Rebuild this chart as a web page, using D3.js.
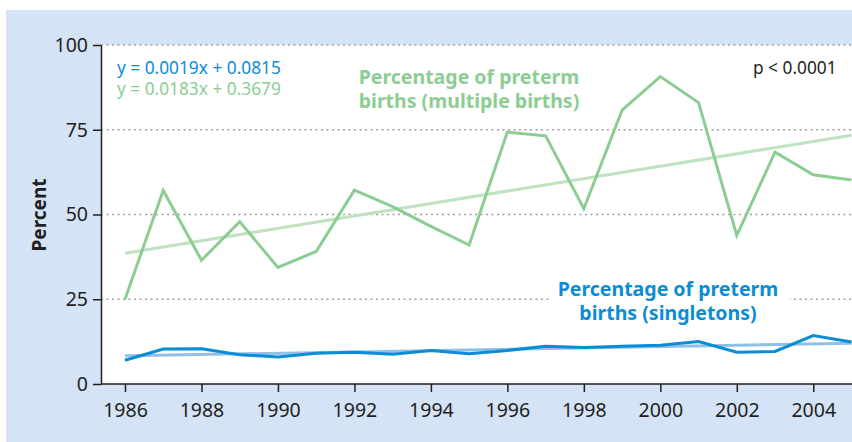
<!DOCTYPE html>
<html>
<head>
<meta charset="utf-8">
<script src="https://cdn.jsdelivr.net/npm/d3@7"></script>
<style>
  html, body { margin: 0; padding: 0; background: #fff; }
  svg { display: block; font-family: "Noto Sans", "Open Sans", sans-serif; }
</style>
</head>
<body>
<div id="chart"></div>
<script>
// data
const years = [1986, 1987, 1988, 1989, 1990, 1991, 1992, 1993, 1994, 1995,
               1996, 1997, 1998, 1999, 2000, 2001, 2002, 2003, 2004, 2005];
const multiple = [25.0, 57.1, 36.5, 47.9, 34.4, 39.1, 57.2, 52.3, 46.5, 41.0,
                  74.3, 73.2, 51.7, 80.8, 90.7, 83.0, 43.8, 68.4, 61.7, 60.2];
const singletons = [7.0, 10.3, 10.4, 8.6, 8.0, 9.1, 9.4, 8.8, 9.9, 8.9,
                    9.9, 11.1, 10.8, 11.1, 11.4, 12.5, 9.4, 9.6, 14.3, 12.4];
const trendYears = [1986, 2005];
const trendMultiple = [38.6, 73.4];
const trendSingle = [8.3, 12.0];
const yTicks = [0, 25, 50, 75, 100];
const xTicks = [1986, 1988, 1990, 1992, 1994, 1996, 1998, 2000, 2002, 2004];

const width = 852, height = 442;
const green = "#8ccd93", greenLight = "#bfe2c0";
const blue = "#0b8dd5", blueLight = "#8fc1e8";
const ink = "#231f20";

const svg = d3.select("#chart").append("svg")
  .attr("width", width).attr("height", height);

// panel backgrounds
svg.append("rect").attr("x", 6).attr("y", 10).attr("width", width - 6).attr("height", height - 10)
  .attr("fill", "#d4e3f5");

const x = d3.scaleLinear().domain([1986, 2005]).range([125, 851.5]);
const y = d3.scaleLinear().domain([0, 100]).range([384, 45]);
const x0 = 101, x1 = width;

svg.append("rect").attr("x", x0).attr("y", y(100)).attr("width", x1 - x0).attr("height", y(0) - y(100))
  .attr("fill", "#fff");

// dotted grid
svg.append("g").selectAll("line")
  .data(yTicks.filter(d => d > 0))
  .join("line")
    .attr("x1", x0).attr("x2", x1)
    .attr("y1", d => y(d)).attr("y2", d => y(d))
    .attr("stroke", "#a0a0a0").attr("stroke-width", 1.3)
    .attr("stroke-dasharray", "2,3.5");

// white patch behind singletons label
svg.append("rect").attr("x", 550).attr("y", 276).attr("width", 240).attr("height", 50).attr("fill", "#fff");

const line = d3.line().x(d => x(d[0])).y(d => y(d[1]));

// trend lines
svg.append("path").datum(d3.zip(trendYears, trendMultiple))
  .attr("d", line).attr("fill", "none").attr("stroke", greenLight).attr("stroke-width", 3);
svg.append("path").datum(d3.zip(trendYears, trendSingle))
  .attr("d", line).attr("fill", "none").attr("stroke", blueLight).attr("stroke-width", 3);

// data lines
svg.append("path").datum(d3.zip(years, multiple))
  .attr("d", line).attr("fill", "none").attr("stroke", green).attr("stroke-width", 3)
  .attr("stroke-linejoin", "miter");
svg.append("path").datum(d3.zip(years, singletons))
  .attr("d", line).attr("fill", "none").attr("stroke", blue).attr("stroke-width", 3)
  .attr("stroke-linejoin", "miter");

// axes
const yAxis = svg.append("g").attr("transform", `translate(${x0},0)`)
  .call(d3.axisLeft(y).tickValues(yTicks).tickSize(8).tickSizeOuter(0).tickPadding(5));
yAxis.select(".domain").attr("stroke", ink).attr("stroke-width", 1.5);
yAxis.selectAll(".tick line").attr("stroke", ink).attr("stroke-width", 1.5);
yAxis.selectAll("text").attr("fill", ink).style("font-size", "19.5px").style("font-family", "Noto Sans");

const xAxis = svg.append("g").attr("transform", `translate(0,${y(0)})`)
  .call(d3.axisBottom(x).tickValues(xTicks).tickFormat(d3.format("d")).tickSize(8).tickSizeOuter(0).tickPadding(11));
xAxis.select(".domain").attr("d", `M${x0},0H${x1}`).attr("stroke", ink).attr("stroke-width", 1.5);
xAxis.selectAll(".tick line").attr("stroke", ink).attr("stroke-width", 1.5);
xAxis.selectAll("text").attr("fill", ink).style("font-size", "19.5px").style("font-family", "Noto Sans");

// y title
svg.append("text")
  .attr("transform", "translate(46,215) rotate(-90)")
  .attr("text-anchor", "middle")
  .style("font-size", "19px").style("font-weight", "bold")
  .attr("fill", ink)
  .text("Percent");

// equations and p value
svg.append("text").attr("x", 117).attr("y", 74).attr("fill", blue)
  .style("font-size", "17.3px").text("y = 0.0019x + 0.0815");
svg.append("text").attr("x", 117).attr("y", 95).attr("fill", green)
  .style("font-size", "17.3px").text("y = 0.0183x + 0.3679");
svg.append("text").attr("x", 753).attr("y", 74).attr("fill", ink)
  .style("font-size", "17.3px").text("p < 0.0001");

// series labels
function label(lines, cx, y0, color) {
  const t = svg.append("text").attr("text-anchor", "middle").attr("fill", color)
    .style("font-size", "19.5px").style("font-weight", "bold");
  lines.forEach((s, i) => {
    t.append("tspan").attr("x", cx).attr("y", y0 + i * 24).text(s);
  });
}
label(["Percentage of preterm", "births (multiple births)"], 469, 84, green);
label(["Percentage of preterm", "births (singletons)"], 668, 296, blue);
</script>
</body>
</html>
